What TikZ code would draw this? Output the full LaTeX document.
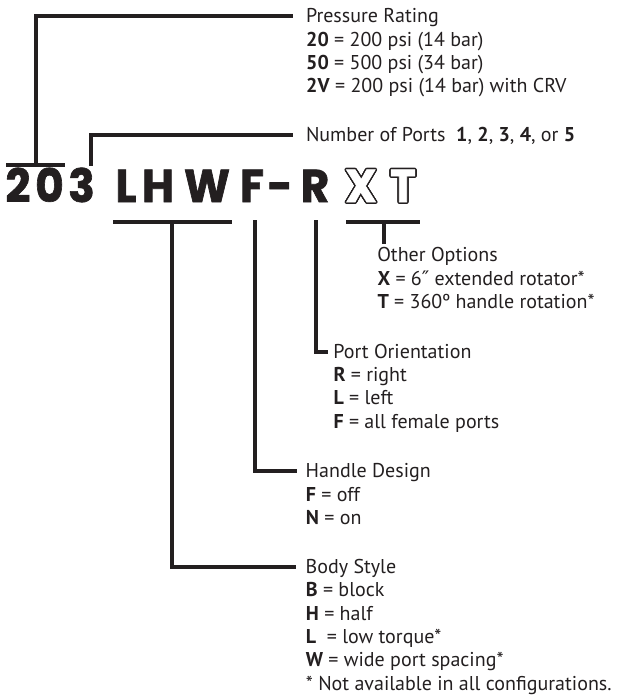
\documentclass[tikz,border=0pt]{standalone}
\usepackage{fontspec}
\usepackage{contour}
\setmainfont{PT Sans}
\newfontfamily\codefont{Poppins}[BoldFeatures={FakeBold=1.5}]
\newfontfamily\symfont{DejaVu Sans}
\usetikzlibrary{positioning}
\contourlength{1.5pt}
\newcommand{\kstrut}{\rule{0pt}{23.3pt}}
\newcommand{\wide}[1]{\scalebox{0.95}[1]{#1}}

\begin{document}
\begin{tikzpicture}[x=1pt, y=-1pt, font=\fontsize{20}{23.3}\selectfont,
  bar/.style={draw=ink, line width=4pt},
  glyph/.style={anchor=base, inner sep=0pt, text=ink, font=\codefont\bfseries\fontsize{46}{46}\selectfont},
  head/.style={anchor=text, inner xsep=10pt, inner ysep=0pt, text height=13pt, text depth=0pt, text=ink},
  opts/.style={anchor=north west, inner sep=0pt, align=left, text=ink}]
  \definecolor{ink}{HTML}{231F20}
  \useasboundingbox (0,0) rectangle (617,698);

  % part number
  \foreach \x/\ch/\nm in {18/2/g1, 49.5/0/g2, 81.5/3/g3, 126/L/g4, 158/H/g5, 207/W/g6, 252/F/g7, 280/-/g8, 315/R/g9}
    \node[glyph] (\nm) at (\x,202) {\wide{\ch}};
  \node[glyph] (g10) at (361,202) {\wide{\contour{ink}{\textcolor{white}{X}}}};
  \node[glyph] (g11) at (403,202) {\wide{\contour{ink}{\textcolor{white}{T}}}};

  % headings and option lists
  \node[head, inner xsep=13pt] (pressure) at (306,22.7) {Pressure Rating};
  \node[opts] (pressopt) at (pressure.text)
    {\kstrut\textbf{20} = 200 psi (14 bar)\\\textbf{50} = 500 psi (34 bar)\\\textbf{2V} = 200 psi (14 bar) with CRV};
  \node[head, inner xsep=13pt] (ports) at (306,141.7)
    {Number of Ports\ \ \textbf{1}, \textbf{2}, \textbf{3}, \textbf{4}, or \textbf{5}};
  \node[head, inner xsep=0pt, inner ysep=5pt] (other) at (377.3,261.7) {Other Options};
  \node[opts] (otheropt) at (other.text)
    {\kstrut\textbf{X} = 6{\symfont ″} extended rotator*\\\textbf{T} = 360º handle rotation*};
  \node[head, inner xsep=5.3pt] (orient) at (333.3,358) {Port Orientation};
  \node[opts] (orientopt) at (orient.text)
    {\kstrut\textbf{R} = right\\\textbf{L} = left\\\textbf{F} = all female ports};
  \node[head, inner xsep=8.7pt] (handle) at (305.7,477.7) {Handle Design};
  \node[opts] (handleopt) at (handle.text)
    {\kstrut\textbf{F} = off\\\textbf{N} = on};
  \node[head, inner xsep=9.7pt] (body) at (305.7,573.3) {Body Style};
  \node[opts] (bodyopt) at (body.text)
    {\kstrut\textbf{B} = block\\\textbf{H} = half\\\textbf{L}\ \ = low torque*\\\textbf{W} = wide port spacing*\\* Not available in all configurations.};

  % brackets
  \coordinate (prs) at (36,165);
  \coordinate (nop) at (91,166);
  \coordinate (lhw) at (172,222);
  \coordinate (hdl) at (255,220);
  \coordinate (ort) at (316,220);
  \coordinate (xt) at (384,222);
  \draw[bar] (6,165) -- (65,165);
  \draw[bar] (prs) |- (pressure.west);
  \draw[bar] (nop) |- (ports.west);
  \draw[bar] (113,222) -- (232,222);
  \draw[bar] (lhw) |- (body.west);
  \draw[bar] (hdl) |- (handle.west);
  \draw[bar] (ort) |- (orient.west);
  \draw[bar] (346,222) -- (420,222);
  \draw[bar] (xt) -- (xt |- other.north);
\end{tikzpicture}
\end{document}
